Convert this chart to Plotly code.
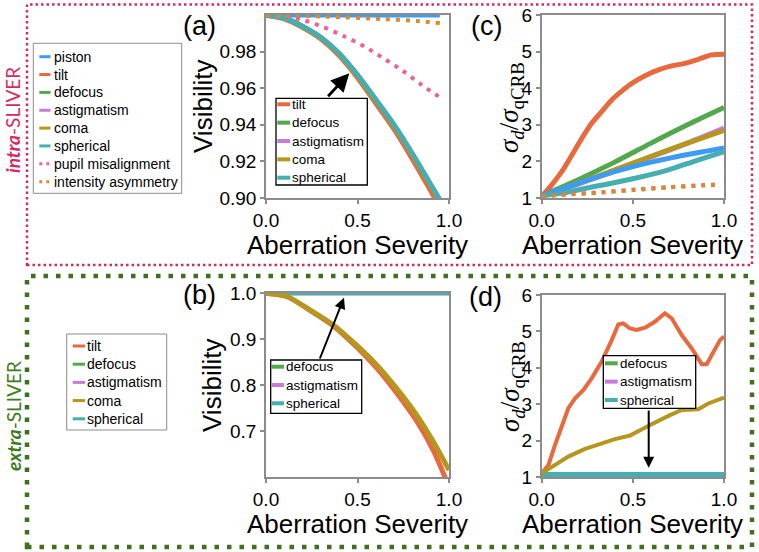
import plotly.graph_objects as go

W, H = 759, 552

# ---- data ----
# (a) intra-SLIVER visibility
sev_a = [0, 0.1, 0.2, 0.3, 0.4, 0.5, 0.6, 0.7, 0.8, 0.9, 0.95]
vis_a_piston = [1.0, 1.0, 1.0, 1.0, 1.0, 1.0, 1.0, 1.0, 1.0, 1.0, 1.0]
vis_a_tilt = [1.0, 0.9982, 0.9935, 0.9872, 0.9782, 0.9662, 0.9522, 0.9380, 0.9218, 0.9045, 0.8955]
vis_a_defocus = [1.0, 0.9983, 0.9936, 0.9875, 0.9787, 0.9670, 0.9534, 0.9396, 0.9238, 0.9070, 0.8985]
vis_a_astig = [1.0, 0.9983, 0.9937, 0.9876, 0.9788, 0.9671, 0.9536, 0.9398, 0.9240, 0.9072, 0.8988]
vis_a_coma = [1.0, 0.9983, 0.9936, 0.9874, 0.9785, 0.9667, 0.9532, 0.9394, 0.9236, 0.9068, 0.8983]
vis_a_spherical = [1.0, 0.9983, 0.9938, 0.9877, 0.9790, 0.9673, 0.9538, 0.9400, 0.9242, 0.9074, 0.8990]
sev_a_pupil = [0, 0.1, 0.197, 0.311, 0.432, 0.541, 0.639, 0.749, 0.852, 0.956]
vis_a_pupil = [1.0, 0.9993, 0.9974, 0.9935, 0.9881, 0.9826, 0.9765, 0.9694, 0.9617, 0.9546]
sev_a_int = [0, 0.1, 0.33, 0.64, 0.82, 0.95]
vis_a_int = [1.0, 0.9998, 0.9991, 0.9978, 0.9967, 0.9956]

# (c) intra-SLIVER sigma ratio
sev_c_tilt = [0, 0.055, 0.11, 0.165, 0.22, 0.274, 0.329, 0.384, 0.439, 0.494, 0.567, 0.64, 0.713, 0.786, 0.859, 0.932, 1.0]
sig_c_tilt = [1.04, 1.36, 1.72, 2.17, 2.63, 3.04, 3.36, 3.68, 3.92, 4.13, 4.34, 4.50, 4.61, 4.68, 4.79, 4.91, 4.93]
sev_c = [0, 0.2, 0.4, 0.6, 0.8, 1.0]
sig_c_piston = [1.06, 1.40, 1.72, 1.98, 2.19, 2.37]
sig_c_defocus = [1.06, 1.50, 1.98, 2.50, 3.00, 3.47]
sig_c_astig = [1.06, 1.38, 1.74, 2.12, 2.50, 2.91]
sig_c_coma = [1.06, 1.40, 1.77, 2.14, 2.50, 2.85]
sev_c_sph = [0, 0.12, 0.238, 0.512, 0.695, 0.84, 1.0]
sig_c_spherical = [1.06, 1.14, 1.26, 1.54, 1.77, 2.01, 2.27]
sev_c_dot = [0, 0.1, 0.33, 0.51, 0.7, 0.88, 0.95]
sig_c_pupil = [1.05, 1.09, 1.16, 1.23, 1.30, 1.35, 1.37]
sig_c_int = [1.04, 1.08, 1.15, 1.22, 1.29, 1.34, 1.355]

# (b) extra-SLIVER visibility
sev_b = [0, 0.113, 0.24, 0.368, 0.495, 0.605, 0.714, 0.823, 0.914, 1.0]
vis_b_coma = [1.0, 0.993, 0.964, 0.931, 0.887, 0.844, 0.793, 0.735, 0.677, 0.615]
sev_b_tilt = [0, 0.113, 0.24, 0.368, 0.495, 0.605, 0.714, 0.823, 0.914, 0.985]
vis_b_tilt = [1.0, 0.993, 0.963, 0.929, 0.883, 0.837, 0.783, 0.722, 0.658, 0.593]
sev_flat = [0, 1.0]
vis_b_flat = [1.0, 1.0]

# (d) extra-SLIVER sigma ratio
sev_d_tilt = [0, 0.037, 0.073, 0.11, 0.146, 0.183, 0.229, 0.274, 0.329, 0.384, 0.42, 0.448, 0.484,
              0.521, 0.567, 0.622, 0.676, 0.713, 0.768, 0.823, 0.878, 0.905, 0.941, 0.978, 1.0]
sig_d_tilt = [1.10, 1.33, 1.88, 2.43, 2.89, 3.16, 3.39, 3.71, 4.17, 4.76, 5.19, 5.22, 5.08,
              5.04, 5.10, 5.27, 5.50, 5.36, 4.90, 4.53, 4.10, 4.10, 4.44, 4.76, 4.86]
sev_d_coma = [0, 0.073, 0.146, 0.238, 0.329, 0.402, 0.484, 0.548, 0.603, 0.695, 0.768, 0.859, 0.914, 1.0]
sig_d_coma = [1.10, 1.33, 1.56, 1.77, 1.92, 2.04, 2.14, 2.32, 2.45, 2.68, 2.84, 2.86, 3.02, 3.18]
sig_d_defocus = [1.07, 1.07]
sig_d_astig = [1.06, 1.06]
sig_d_spherical = [1.055, 1.055]

C = {
    "piston": "#3d9bf3", "tilt": "#e8693e", "defocus": "#52a84c", "astigmatism": "#c77bdb",
    "coma": "#b5961f", "spherical": "#45aeb0", "pupil misalignment": "#ef5f9c",
    "intensity asymmetry": "#d88a2c",
}


def px(x):
    return x / W


def py(y):
    return 1 - y / H


fig = go.Figure()


def line(x, y, name, ax, width, dash="solid", shape="spline"):
    fig.add_trace(go.Scatter(
        x=x, y=y, mode="lines", name=name, showlegend=False,
        line=dict(color=C[name], width=width, dash=dash, shape=shape, smoothing=0.8),
        xaxis="x" + ax, yaxis="y" + ax,
    ))


# (a)
line(sev_a, vis_a_piston, "piston", "", 5)
line(sev_a, vis_a_tilt, "tilt", "", 6)
line(sev_a, vis_a_defocus, "defocus", "", 5)
line(sev_a, vis_a_astig, "astigmatism", "", 5)
line(sev_a, vis_a_coma, "coma", "", 5)
line(sev_a, vis_a_spherical, "spherical", "", 5)
line(sev_a_pupil, vis_a_pupil, "pupil misalignment", "", 4, "4px,6px")
line(sev_a_int, vis_a_int, "intensity asymmetry", "", 4, "4px,6px")
# (c)
line(sev_c_tilt, sig_c_tilt, "tilt", "2", 5)
line(sev_c, sig_c_defocus, "defocus", "2", 5)
line(sev_c, sig_c_astig, "astigmatism", "2", 5)
line(sev_c, sig_c_coma, "coma", "2", 5)
line(sev_c, sig_c_piston, "piston", "2", 5)
line(sev_c_sph, sig_c_spherical, "spherical", "2", 5)
line(sev_c_dot, sig_c_pupil, "pupil misalignment", "2", 4, "4px,6px")
line(sev_c_dot, sig_c_int, "intensity asymmetry", "2", 4, "4px,6px")
# (b)
line(sev_flat, vis_b_flat, "defocus", "3", 4)
line(sev_flat, vis_b_flat, "astigmatism", "3", 4)
line(sev_flat, vis_b_flat, "spherical", "3", 4)
line(sev_b_tilt, vis_b_tilt, "tilt", "3", 5)
line(sev_b, vis_b_coma, "coma", "3", 5)
# (d) - jagged curves, keep straight segments
line(sev_flat, sig_d_defocus, "defocus", "4", 5, shape="linear")
line(sev_flat, sig_d_astig, "astigmatism", "4", 5, shape="linear")
line(sev_flat, sig_d_spherical, "spherical", "4", 6, shape="linear")
line(sev_d_tilt, sig_d_tilt, "tilt", "4", 4, shape="linear")
line(sev_d_coma, sig_d_coma, "coma", "4", 4, shape="linear")

axis_style = dict(
    showline=True, linecolor="#8c8c8c", linewidth=1.5, mirror=True,
    ticks="outside", ticklen=4, tickwidth=1.5, tickcolor="#8c8c8c",
    showgrid=False, zeroline=False, automargin=False,
    tickfont=dict(size=19, color="black", family="Liberation Sans"),
)
xdom_l = [px(266), px(449)]
xdom_r = [px(541.7), px(724)]
ydom_top = [py(198), py(15)]
xticks = dict(range=[0, 1], tickvals=[0, 0.5, 1], ticktext=["0.0", "0.5", "1.0"])

fig.update_layout(
    width=W, height=H,
    margin=dict(l=0, r=0, t=0, b=0, pad=0, autoexpand=False),
    paper_bgcolor="white", plot_bgcolor="white",
    showlegend=False,
    font=dict(family="Liberation Sans", color="black"),
    xaxis=dict(domain=xdom_l, anchor="y", **xticks, **axis_style),
    yaxis=dict(domain=ydom_top, anchor="x", range=[0.9, 1.0],
               tickvals=[0.90, 0.92, 0.94, 0.96, 0.98], tickformat=".2f", **axis_style),
    xaxis2=dict(domain=xdom_r, anchor="y2", **xticks, **axis_style),
    yaxis2=dict(domain=ydom_top, anchor="x2", range=[1, 6], tickvals=[1, 2, 3, 4, 5, 6], **axis_style),
    xaxis3=dict(domain=xdom_l, anchor="y3", **xticks, **axis_style),
    yaxis3=dict(domain=[py(477), py(293.3)], anchor="x3", range=[0.6, 1.0],
                tickvals=[0.7, 0.8, 0.9, 1.0], tickformat=".1f", **axis_style),
    xaxis4=dict(domain=xdom_r, anchor="y4", **xticks, **axis_style),
    yaxis4=dict(domain=[py(477), py(295)], anchor="x4", range=[1, 6], tickvals=[1, 2, 3, 4, 5, 6], **axis_style),
)

shapes = []
annotations = []


def text(x, y, t, size, angle=0, color="black", family="Liberation Sans", xanchor="center"):
    annotations.append(dict(
        x=px(x), y=py(y), xref="paper", yref="paper", text=t, showarrow=False,
        textangle=angle, xanchor=xanchor, yanchor="middle",
        font=dict(size=size, color=color, family=family),
    ))


def arrow(hx, hy, tx, ty, width, size):
    annotations.append(dict(
        x=px(hx), y=py(hy), xref="paper", yref="paper", text="",
        showarrow=True, ax=tx - hx, ay=ty - hy, arrowhead=2,
        arrowsize=size, arrowwidth=width, arrowcolor="black", standoff=0,
    ))


# outer dotted frames
shapes.append(dict(type="rect", xref="paper", yref="paper", x0=px(27), x1=px(752), y0=py(265), y1=py(4.5),
                   line=dict(color="#d42a63", width=2.5, dash="2.5px,3px")))
shapes.append(dict(type="rect", xref="paper", yref="paper", x0=px(27), x1=px(752), y0=py(547), y1=py(276),
                   line=dict(color="#3f6f1f", width=4.5, dash="4.5px,8px")))


def legend_box(left, top, right, bottom, entries, y0, dy, sx0, sx1, tx, lw, border, bw, size):
    shapes.append(dict(type="rect", xref="paper", yref="paper", layer="above",
                       x0=px(left), x1=px(right), y0=py(bottom), y1=py(top),
                       fillcolor="white", line=dict(color=border, width=bw)))
    for i, (name, dash) in enumerate(entries):
        y = y0 + i * dy
        shapes.append(dict(type="line", xref="paper", yref="paper", layer="above",
                           x0=px(sx0), x1=px(sx1), y0=py(y), y1=py(y),
                           line=dict(color=C[name], width=lw, dash=dash)))
        text(tx, y, name, size, xanchor="left")


legend_box(33.3, 43.3, 181.7, 193.3,
           [("piston", "solid"), ("tilt", "solid"), ("defocus", "solid"), ("astigmatism", "solid"),
            ("coma", "solid"), ("spherical", "solid"), ("pupil misalignment", "3px,4px"),
            ("intensity asymmetry", "3px,4px")],
           56.7, 17.85, 39.3, 50.5, 51.5, 3, "#8c8c8c", 1, 14)
legend_box(276, 98.3, 367.3, 185,
           [("tilt", "solid"), ("defocus", "solid"), ("astigmatism", "solid"), ("coma", "solid"),
            ("spherical", "solid")],
           104.3, 18.35, 277.3, 290.2, 289.8, 4, "black", 1.3, 13.5)
legend_box(66.7, 334, 166.7, 430,
           [("tilt", "solid"), ("defocus", "solid"), ("astigmatism", "solid"), ("coma", "solid"),
            ("spherical", "solid")],
           346, 18.2, 72.7, 85, 85, 3, "#8c8c8c", 1, 14)
legend_box(270.7, 360, 361.7, 413.3,
           [("defocus", "solid"), ("astigmatism", "solid"), ("spherical", "solid")],
           366.7, 18.3, 271.3, 284, 284, 4, "black", 1.3, 13.5)
legend_box(603.3, 355.7, 695.7, 408.3,
           [("defocus", "solid"), ("astigmatism", "solid"), ("spherical", "solid")],
           363.3, 18.35, 605, 617.7, 617.5, 4, "black", 1.3, 13.5)

# arrows
arrow(349.3, 73.3, 326.7, 97.7, 2.8, 1.3)
arrow(344, 297.7, 319.3, 360, 2, 1.1)
arrow(648.7, 467.7, 648.7, 409, 2, 1.1)

# axis titles
sigma = "<i>σ</i><sub><i>d</i></sub>/<i>σ</i><sub>qCRB</sub>"
text(357.5, 245, "Aberration Severity", 26)
text(632.8, 245, "Aberration Severity", 26)
text(357.5, 524, "Aberration Severity", 26)
text(632.8, 524, "Aberration Severity", 26)
text(202.5, 106.5, "Visibility", 26, angle=-90)
text(212, 385, "Visibility", 26, angle=-90)
text(511, 107, sigma, 27, angle=-90, family="Liberation Serif")
text(512, 387, sigma, 27, angle=-90, family="Liberation Serif")

# panel labels
text(199, 26, "(a)", 27)
text(486, 26, "(c)", 27)
text(199, 295, "(b)", 27)
text(485, 297, "(d)", 27)

# side labels
text(13, 120, "<b><i>intra</i></b>-SLIVER", 19, angle=-90, color="#d42a63", family="Lato")
text(13, 416, "<b><i>extra</i></b>-SLIVER", 19, angle=-90, color="#3f7a1f", family="Lato")

fig.update_layout(shapes=shapes, annotations=annotations)

# page body has a default margin; drop it so the figure sits at the window origin
fig.write_html(
    "out.html",
    config={"displayModeBar": False},
    post_script="document.body.style.margin='0';document.body.style.overflow='hidden';",
)
